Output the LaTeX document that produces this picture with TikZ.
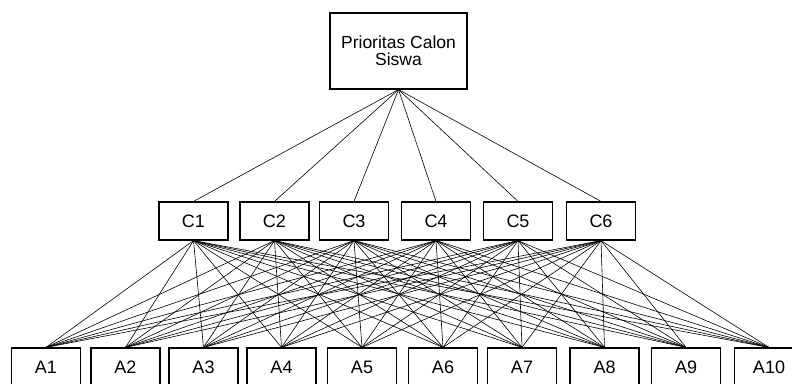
\documentclass[tikz,border=0pt]{standalone}
\usepackage{fontspec}
\setmainfont{Liberation Sans}
\usepackage{tikz}
\usetikzlibrary{positioning}

\begin{document}
\begin{tikzpicture}[x=1pt,y=-1pt,
  box/.style={draw,line width=1.2pt,minimum width=69pt,minimum height=38pt,inner sep=1pt,font=\fontsize{18}{17}\selectfont},
  link/.style={line width=0.6pt}]
\clip (0,0) rectangle (792,383);
\node [box,minimum width=137pt,minimum height=76pt,align=center,font=\fontsize{17.5}{17}\selectfont] (goal) at (398.5,51) {Prioritas Calon\\Siswa};
\foreach \i/\x in {1/193.5,2/274.5,3/354,4/436,5/518,6/601}
  \node [box] (c\i) at (\x,221) {C\i};
\foreach \j/\x in {1/46,2/125.5,3/203.5,4/281.5,5/362,6/443,7/522,8/604.5,9/686,10/769}
  \node [box] (a\j) at (\x,367) {A\j};
% criteria to goal
\foreach \i in {1,...,6}
  \draw [link] (goal.south) -- (c\i.north);
% alternatives to criteria
\foreach \i in {1,...,6}
  \foreach \j in {1,...,10}
    \draw [link] (c\i.south) -- (a\j.north);
\end{tikzpicture}
\end{document}
